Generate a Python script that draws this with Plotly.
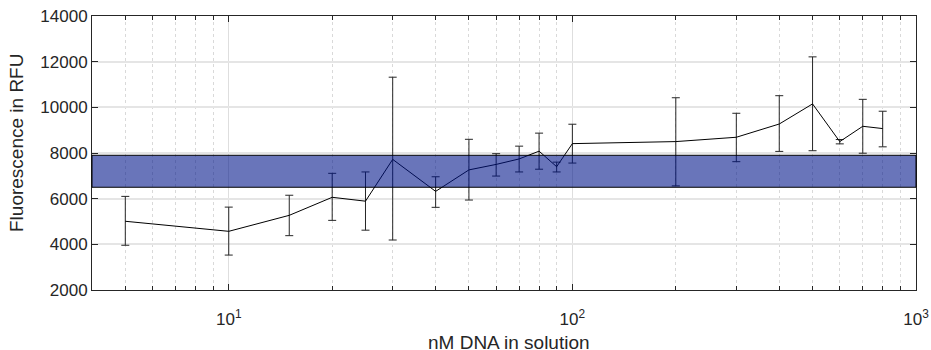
import plotly.graph_objects as go
import math

# ---- data ----
conc_nM = [5, 10, 15, 20, 25, 30, 40, 50, 60, 70, 80, 90, 100, 200, 300, 400, 500, 600, 700, 800]
fluor_mean = [5010, 4570, 5270, 6060, 5890, 7720, 6320, 7260, 7500, 7740, 8080, 7400, 8410,
              8500, 8690, 9270, 10150, 8500, 9170, 9070]
err_plus = [1090, 1060, 880, 1050, 1280, 3600, 640, 1340, 470, 560, 790, 200, 850,
            1920, 1050, 1240, 2060, 90, 1180, 760]
err_minus = [1050, 1040, 890, 1010, 1270, 3530, 700, 1320, 510, 570, 790, 230, 850,
             1940, 1070, 1200, 2050, 100, 1180, 800]
band_low = 6500
band_high = 7900

x_tickvals = [10, 100, 1000]
x_ticktext = ["10<sup>1</sup>", "10<sup>2</sup>", "10<sup>3</sup>"]
x_minor_tickvals = [5, 6, 7, 8, 9, 20, 30, 40, 50, 60, 70, 80, 90,
                    200, 300, 400, 500, 600, 700, 800, 900]
y_tickvals = [2000, 4000, 6000, 8000, 10000, 12000, 14000]
y_ticktext = ["2000", "4000", "6000", "8000", "10000", "12000", "14000"]
x_title = "nM DNA in solution"
y_title = "Fluorescence in RFU"

FONT = "Liberation Sans, Arial, Helvetica, sans-serif"
AXC = "#262626"
TXT = "#262626"

fig = go.Figure()
fig.add_trace(go.Scatter(
    x=conc_nM, y=fluor_mean, mode="lines",
    line=dict(color="#000000", width=1),
    error_y=dict(type="data", symmetric=False, array=err_plus, arrayminus=err_minus,
                 color="#262626", thickness=1, width=4),
    showlegend=False, hoverinfo="skip",
))

fig.add_shape(type="rect", xref="x domain", yref="y", x0=0, x1=1,
              y0=band_low, y1=band_high, layer="above",
              fillcolor="rgba(0,21,138,0.59)", line=dict(color="#000000", width=1))

fig.update_xaxes(
    type="log", range=[math.log10(4), 3], automargin=False,
    tickmode="array", tickvals=x_tickvals, ticktext=x_ticktext,
    ticks="inside", ticklen=6, tickcolor=AXC, tickwidth=1,
    showline=True, linecolor=AXC, linewidth=1, mirror="ticks",
    showgrid=True, gridcolor="#dedede", gridwidth=1,
    minor=dict(tickmode="array", tickvals=x_minor_tickvals,
               ticks="inside", ticklen=4, tickcolor=AXC, showgrid=True,
               gridcolor="#d9d9d9", griddash="dot", gridwidth=1),
    zeroline=False, ticklabeloverflow="allow", ticklabelstandoff=14,
    tickfont=dict(size=17, color=TXT, family=FONT),
)
fig.update_yaxes(
    range=[2000, 14000], automargin=False,
    tickmode="array", tickvals=y_tickvals, ticktext=y_ticktext,
    ticks="inside", ticklen=6, tickcolor=AXC, tickwidth=1,
    showline=True, linecolor=AXC, linewidth=1, mirror="ticks",
    showgrid=True, gridcolor="#e5e5e5", gridwidth=2,
    zeroline=False, ticklabeloverflow="allow",
    tickfont=dict(size=17, color=TXT, family=FONT),
)
fig.add_annotation(text=x_title, xref="paper", yref="paper", x=0.5, y=0,
                   xanchor="center", yanchor="middle", xshift=5, yshift=-52,
                   showarrow=False, font=dict(size=19, color=TXT, family=FONT))
fig.add_annotation(text=y_title, xref="paper", yref="paper", x=0, y=0.5,
                   xanchor="center", yanchor="middle", xshift=-76, yshift=10,
                   textangle=-90,
                   showarrow=False, font=dict(size=19, color=TXT, family=FONT))
fig.update_layout(
    width=931, height=350,
    margin=dict(l=92, r=15, t=16, b=60),
    plot_bgcolor="white", paper_bgcolor="white",
    font=dict(family=FONT), hovermode=False,
)
fig.write_html("out.html", config={"displayModeBar": False},
               post_script="document.body.style.margin='0px';")
